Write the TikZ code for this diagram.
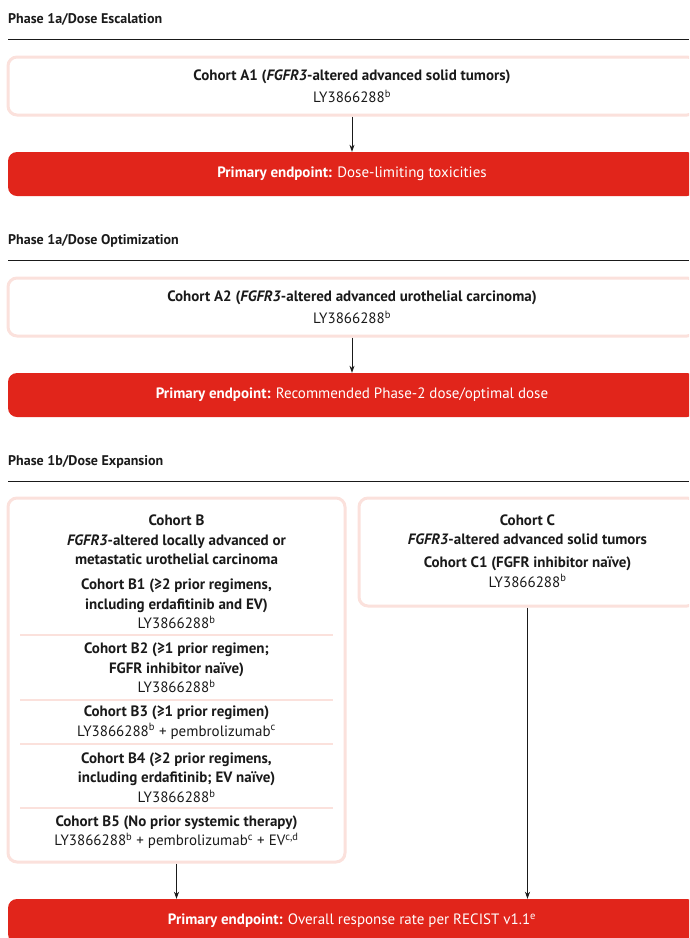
\documentclass[tikz,border=0pt]{standalone}
\usepackage{fontspec}
\setmainfont{PT Sans}
\usetikzlibrary{arrows.meta}
\definecolor{epred}{HTML}{E1251B}
\definecolor{boxpink}{HTML}{FBE1DC}
\definecolor{ink}{HTML}{1A1A1A}
\newcommand{\lyb}{LY3866288\textsuperscript{b}}

\begin{document}
\begin{tikzpicture}[x=1pt,y=-1pt,
  phase/.style={anchor=west,text=ink,inner sep=0pt,font=\fontsize{14}{16}\selectfont\bfseries},
  cohort/.style={draw=boxpink,line width=3pt,fill=white,rounded corners=9pt,align=center,inner sep=0pt,text=ink,font=\fontsize{15}{22}\selectfont},
  endpt/.style={fill=epred,text=white,rounded corners=9pt,minimum height=44pt,minimum width=688pt,font=\fontsize{15}{17}\selectfont},
  txt/.style={align=center,text=ink,inner sep=0pt,font=\fontsize{15}{19.5}\selectfont},
  sep/.style={draw=boxpink,line width=1.5pt},
  arr/.style={-{Stealth[length=7pt,width=5pt]},line width=0.8pt,ink}]
  \useasboundingbox (0,0) rectangle (689,938);
  \clip (0,0) rectangle (689,938);

  \node[phase] (p1) at (8,19) {Phase 1a/Dose Escalation};
  \draw[ink,line width=1pt] (8,39) -- (689,39);
  \node[cohort,minimum width=688pt,minimum height=58pt] (a1) at (352,86)
    {\textbf{Cohort A1 (\textit{FGFR3}-altered advanced solid tumors)}\\ \lyb};
  \node[endpt] (e1) at (352,174) {\textbf{Primary endpoint:} Dose-limiting toxicities};
  \draw[arr] (a1) -- (e1);

  \node[phase] (p2) at (8,241) {Phase 1a/Dose Optimization};
  \draw[ink,line width=1pt] (8,260) -- (689,260);
  \node[cohort,minimum width=688pt,minimum height=58pt] (a2) at (352,307)
    {\textbf{Cohort A2 (\textit{FGFR3}-altered advanced urothelial carcinoma)}\\ \lyb};
  \node[endpt] (e2) at (352,395) {\textbf{Primary endpoint:} Recommended Phase-2 dose/optimal dose};
  \draw[arr] (a2) -- (e2);

  \node[phase] (p3) at (8,462) {Phase 1b/Dose Expansion};
  \draw[ink,line width=1pt] (8,481) -- (689,481);

  \node[cohort,minimum width=337pt,minimum height=364pt] (cb) at (176.5,680) {};
  \node[txt] (bhd) at (176.5,540) {\textbf{Cohort B}\\ \textbf{\textit{FGFR3}-altered locally advanced or}\\ \textbf{metastatic urothelial carcinoma}};
  \node[txt] (b1) at (176.5,604) {\textbf{Cohort B1 (≥2 prior regimens,}\\ \textbf{including erdafitinib and EV)}\\ \lyb};
  \draw[sep] (20,635) -- (333,635);
  \node[txt] (b2) at (176.5,668) {\textbf{Cohort B2 (≥1 prior regimen;}\\ \textbf{FGFR inhibitor naïve)}\\ \lyb};
  \draw[sep] (20,700) -- (333,700);
  \node[txt] (b3) at (176.5,722.5) {\textbf{Cohort B3 (≥1 prior regimen)}\\ \lyb{} + pembrolizumab\textsuperscript{c}};
  \draw[sep] (20,744) -- (333,744);
  \node[txt] (b4) at (176.5,777.5) {\textbf{Cohort B4 (≥2 prior regimens,}\\ \textbf{including erdafitinib; EV naïve)}\\ \lyb};
  \draw[sep] (20,808) -- (333,808);
  \node[txt] (b5) at (176.5,832) {\textbf{Cohort B5 (No prior systemic therapy)}\\ \lyb{} + pembrolizumab\textsuperscript{c} + EV\textsuperscript{c,d}};

  \node[cohort,minimum width=337pt,minimum height=108pt] (cc) at (527.5,552) {};
  \node[txt] (chd) at (527.5,529.5) {\textbf{Cohort C}\\ \textbf{\textit{FGFR3}-altered advanced solid tumors}};
  \node[txt] (c1) at (527.5,572) {\textbf{Cohort C1 (FGFR inhibitor naïve)}\\ \lyb};

  \node[endpt] (e3) at (352,921) {\textbf{Primary endpoint:} Overall response rate per RECIST v1.1\textsuperscript{e}};
  \draw[arr] (cb.south) -- (cb.south |- e3.north);
  \draw[arr] (cc.south) -- (cc.south |- e3.north);
\end{tikzpicture}
\end{document}
